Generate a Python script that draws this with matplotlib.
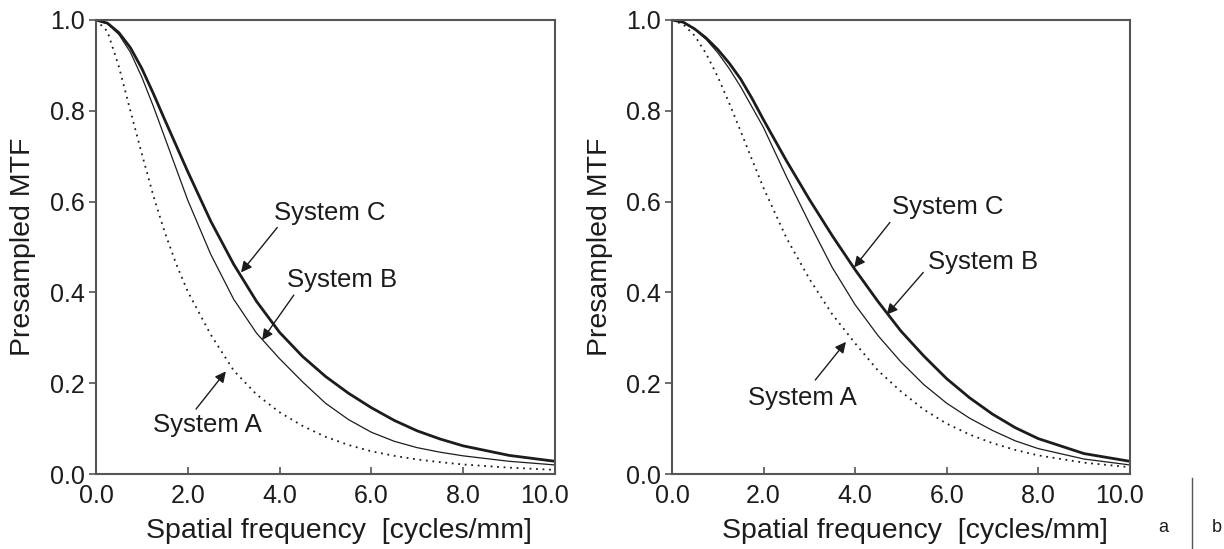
import numpy as np
import matplotlib
matplotlib.use("Agg")
import matplotlib.pyplot as plt
from matplotlib.ticker import FormatStrFormatter
from matplotlib.transforms import ScaledTranslation

plt.rcParams['font.family'] = ['Liberation Sans', 'DejaVu Sans']

# spatial frequency grid [cycles/mm]
freq = [0, 0.25, 0.5, 0.75, 1.0, 1.25, 1.5, 1.75, 2.0, 2.5, 3.0, 3.5, 4.0,
        4.5, 5.0, 5.5, 6.0, 6.5, 7.0, 7.5, 8.0, 9.0, 10.0]

# panel a
a_sys_c = [1.0, 0.993, 0.972, 0.939, 0.893, 0.838, 0.78, 0.723, 0.666, 0.557, 0.462, 0.38,
           0.312, 0.259, 0.215, 0.178, 0.146, 0.118, 0.095, 0.077, 0.062, 0.041, 0.028]
a_sys_b = [1.0, 0.992, 0.968, 0.929, 0.874, 0.81, 0.741, 0.672, 0.603, 0.484, 0.385, 0.31,
           0.254, 0.203, 0.156, 0.12, 0.092, 0.072, 0.058, 0.048, 0.04, 0.028, 0.02]
a_sys_a = [1.0, 0.975, 0.897, 0.80, 0.705, 0.613, 0.532, 0.462, 0.402, 0.307, 0.228, 0.175,
           0.136, 0.106, 0.082, 0.064, 0.05, 0.04, 0.032, 0.026, 0.021, 0.014, 0.009]

# panel b
b_sys_c = [1.0, 0.995, 0.98, 0.96, 0.935, 0.905, 0.87, 0.827, 0.78, 0.69, 0.605, 0.525,
           0.45, 0.38, 0.315, 0.26, 0.21, 0.168, 0.132, 0.102, 0.078, 0.045, 0.028]
b_sys_b = [1.0, 0.995, 0.979, 0.957, 0.928, 0.893, 0.853, 0.808, 0.763, 0.655, 0.553, 0.455,
           0.373, 0.305, 0.247, 0.197, 0.156, 0.123, 0.096, 0.073, 0.056, 0.033, 0.02]
b_sys_a = [1.0, 0.99, 0.965, 0.925, 0.875, 0.817, 0.755, 0.692, 0.63, 0.52, 0.43, 0.352,
           0.288, 0.228, 0.182, 0.142, 0.111, 0.087, 0.068, 0.053, 0.041, 0.025, 0.015]

# label text, text anchor (left, middle), arrow tip and arrow tail, in data coords
a_labels = [("System C", (3.88, 0.575), (3.16, 0.444), (3.95, 0.543)),
            ("System B", (4.17, 0.427), (3.62, 0.295), (4.31, 0.394)),
            ("System A", (1.24, 0.107), (2.83, 0.226), (2.18, 0.143))]
b_labels = [("System C", (4.80, 0.587), (3.98, 0.455), (4.76, 0.554)),
            ("System B", (5.60, 0.466), (4.69, 0.351), (5.49, 0.444)),
            ("System A", (1.67, 0.168), (3.80, 0.291), (3.13, 0.207))]

ink = "#1c1c1c"
fig = plt.figure(figsize=(12.24, 5.49), dpi=100)
ax1 = fig.add_axes([0.0784, 0.1366, 0.375, 0.827])
ax2 = fig.add_axes([0.549, 0.1366, 0.374, 0.827])


def draw(ax, c, b, a, labels):
    ax.plot(freq, a, color=ink, lw=1.3, linestyle=(0, (1, 2.6)))
    ax.plot(freq, b, color=ink, lw=0.9)
    ax.plot(freq, c, color=ink, lw=2.0)
    for txt, pos, tip, tail in labels:
        ax.text(pos[0], pos[1], txt, fontsize=18.5, color=ink, ha="left", va="center")
        ax.annotate("", xy=tip, xytext=tail,
                    arrowprops=dict(arrowstyle="-|>", color=ink, lw=1.0,
                                    mutation_scale=16, shrinkA=0, shrinkB=0))
    ax.set_xlim(0, 10)
    ax.set_ylim(0, 1.0)
    ax.set_xticks([0, 2, 4, 6, 8, 10])
    ax.set_yticks([0, 0.2, 0.4, 0.6, 0.8, 1.0])
    ax.xaxis.set_major_formatter(FormatStrFormatter("%.1f"))
    ax.yaxis.set_major_formatter(FormatStrFormatter("%.1f"))
    ax.tick_params(axis="x", direction="in", length=5, width=1.2, pad=7,
                   labelsize=18, colors="#555555", labelcolor=ink)
    ax.tick_params(axis="y", direction="out", length=5, width=1.2, pad=3,
                   labelsize=18, colors="#555555", labelcolor=ink)
    for s in ax.spines.values():
        s.set_color("#555555")
        s.set_linewidth(1.5)
    ax.set_ylabel("Presampled MTF", fontsize=20.5, color=ink)
    ax.set_xlabel("Spatial frequency  [cycles/mm]", fontsize=20.5, color=ink)
    ax.yaxis.set_label_coords(-0.158, 0.5)
    ax.xaxis.set_label_coords(0.53, -0.125)
    ax.xaxis.label.set_va("center")
    ax.yaxis.label.set_va("center")
    # last x label sits a little left of its tick
    last = ax.xaxis.get_major_ticks()[-1].label1
    last.set_transform(last.get_transform() + ScaledTranslation(-0.1, 0, fig.dpi_scale_trans))


draw(ax1, a_sys_c, a_sys_b, a_sys_a, a_labels)
draw(ax2, b_sys_c, b_sys_b, b_sys_a, b_labels)

# panel key at the bottom right
fig.text(1163 / 1224, 1 - 528 / 549, "a", fontsize=13, color=ink, ha="center", va="center")
fig.text(1217 / 1224, 1 - 528 / 549, "b", fontsize=13, color=ink, ha="center", va="center")
fig.add_artist(plt.Line2D([1192 / 1224, 1192 / 1224], [0, 1 - 478 / 549],
                          color="#555555", lw=1.0))

fig.savefig("out.png", dpi=100)
